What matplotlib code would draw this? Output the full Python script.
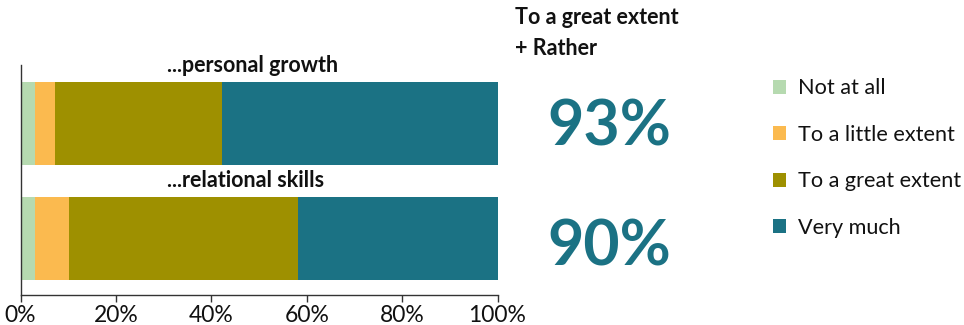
import numpy as np
import matplotlib.pyplot as plt
import matplotlib.transforms as mtransforms

plt.rcParams["font.family"] = ["Lato", "DejaVu Sans"]

# data (percent of respondents)
categories = ["...personal growth", "...relational skills"]
responses = ["Not at all", "To a little extent", "To a great extent", "Very much"]
not_at_all = [3.0, 3.0]
little_extent = [4.2, 7.2]
great_extent = [35.0, 47.9]
very_much = [57.8, 41.9]
tick_values = [0, 20, 40, 60, 80, 100]

COLORS = ["#b6dab0", "#fbba4f", "#9e9000", "#1b7284"]
TEXT = "#111111"

series = [not_at_all, little_extent, great_extent, very_much]

fig = plt.figure(figsize=(9.64, 3.25), dpi=100)
ax = fig.add_axes([20.5 / 964, 30 / 325, 477 / 964, 230 / 325])

y = np.arange(len(categories))
left = np.zeros(len(categories))
bars = []
for values, color, label in zip(series, COLORS, responses):
    b = ax.barh(y, values, left=left, height=0.72, color=color, label=label)
    bars.append(b)
    left += np.array(values)

ax.set_xlim(0, 100)
ax.set_ylim(1.49, -0.51)

for i, name in enumerate(categories):
    ax.text(30.7, i - 0.45, name, ha="left", va="baseline",
            fontsize=15.5, fontweight="bold", color=TEXT, clip_on=False)

ax.set_xticks(tick_values, labels=[f"{v}%" for v in tick_values])
ax.tick_params(axis="x", length=5, width=1, color="#333333", labelsize=16.5,
               labelcolor=TEXT, pad=2)
ax.set_yticks([])
for side in ["top", "right"]:
    ax.spines[side].set_visible(False)
for side in ["left", "bottom"]:
    ax.spines[side].set_color("#333333")
    ax.spines[side].set_linewidth(1)

# share of "to a great extent" + "very much"
top_two = np.round(np.array(great_extent) + np.array(very_much)).astype(int)
blend = mtransforms.blended_transform_factory(fig.transFigure, ax.transData)
nudge = [0.03, 0.075]
for i, total in enumerate(top_two):
    ax.text(609.5 / 964, i + nudge[i], f"{total}%", transform=blend,
            ha="center", va="center", fontsize=45, fontweight="bold",
            color=COLORS[3])

fig.text(515 / 964, 1 - 7 / 325, "To a great extent\n+ Rather", ha="left",
         va="top", fontsize=15.5, fontweight="bold", color=TEXT,
         linespacing=1.6)

fig.legend(handles=bars, labels=responses, loc="upper left",
           bbox_to_anchor=(753 / 964, 1 - 59 / 325), frameon=False,
           fontsize=15.6, handlelength=0.6, handleheight=0.6,
           handletextpad=0.6, labelspacing=1.22, labelcolor=TEXT)

fig.savefig("out.png", dpi=100)
